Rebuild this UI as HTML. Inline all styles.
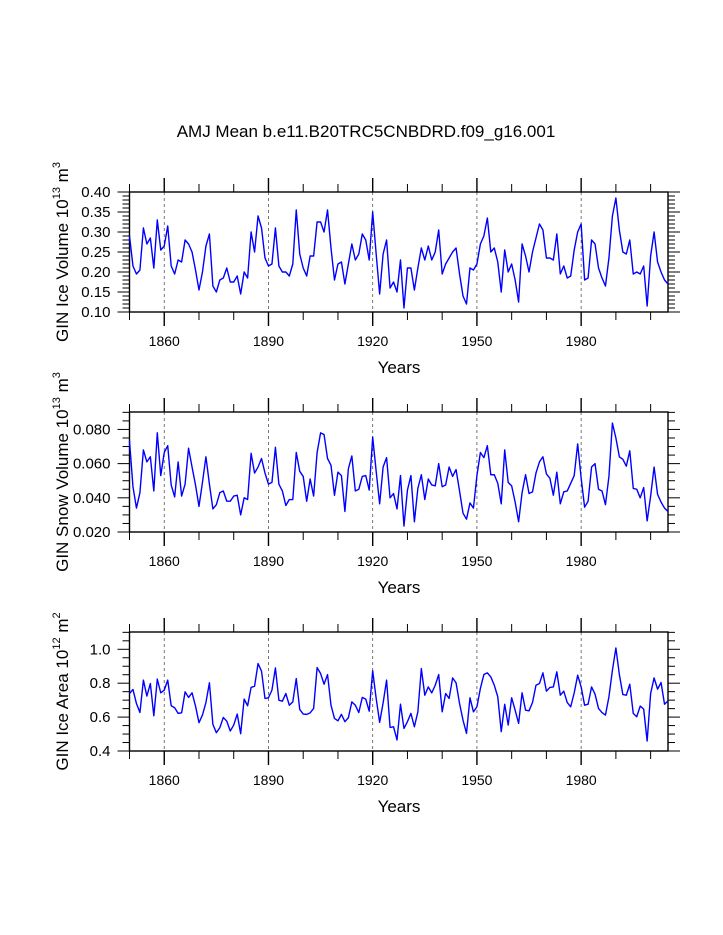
<!DOCTYPE html>
<html><head><meta charset="utf-8">
<style>
html,body{margin:0;padding:0;background:#fff;}
svg{display:block;font-family:"Liberation Sans",Arial,sans-serif;}
</style></head>
<body>
<svg id="chart" width="723" height="935" viewBox="0 0 723 935" xmlns="http://www.w3.org/2000/svg">
<rect width="723" height="935" fill="#fff"/>
<text x="366" y="137" font-size="17" text-anchor="middle" fill="#000">AMJ Mean b.e11.B20TRC5CNBDRD.f09_g16.001</text>
</svg>
<script>
const years = [];
for (let y = 1850; y <= 2005; y++) years.push(y);
const xTickYears = [1860, 1890, 1920, 1950, 1980];
const iceVolume = [0.29,0.215,0.195,0.205,0.31,0.27,0.285,0.21,0.33,0.255,0.265,0.315,0.215,0.195,0.23,0.225,0.28,0.27,0.25,0.205,0.155,0.20,0.265,0.295,0.165,0.15,0.18,0.185,0.21,0.175,0.175,0.19,0.145,0.20,0.185,0.30,0.25,0.34,0.31,0.235,0.215,0.22,0.31,0.215,0.20,0.20,0.19,0.22,0.355,0.245,0.21,0.19,0.24,0.24,0.325,0.325,0.30,0.355,0.26,0.18,0.22,0.225,0.17,0.22,0.27,0.23,0.245,0.295,0.28,0.23,0.35,0.245,0.145,0.245,0.28,0.16,0.175,0.15,0.23,0.11,0.21,0.21,0.155,0.21,0.26,0.23,0.265,0.23,0.25,0.305,0.195,0.22,0.235,0.25,0.26,0.195,0.14,0.12,0.21,0.205,0.22,0.27,0.29,0.335,0.25,0.26,0.225,0.15,0.255,0.20,0.22,0.18,0.125,0.27,0.24,0.20,0.25,0.285,0.32,0.305,0.235,0.235,0.23,0.295,0.195,0.215,0.185,0.19,0.255,0.30,0.32,0.18,0.185,0.28,0.27,0.21,0.185,0.165,0.235,0.34,0.385,0.305,0.25,0.245,0.28,0.195,0.20,0.195,0.215,0.115,0.24,0.30,0.225,0.20,0.18,0.17];
const snowVolume = [0.0733,0.0465,0.034,0.043,0.068,0.061,0.064,0.044,0.078,0.053,0.0665,0.0705,0.0475,0.0405,0.061,0.041,0.048,0.069,0.058,0.0475,0.035,0.049,0.064,0.048,0.0335,0.036,0.043,0.044,0.038,0.038,0.041,0.0415,0.030,0.040,0.039,0.066,0.0545,0.058,0.063,0.0545,0.048,0.049,0.0695,0.048,0.044,0.0355,0.039,0.039,0.0665,0.0555,0.0525,0.038,0.051,0.041,0.0665,0.078,0.077,0.063,0.059,0.0415,0.055,0.053,0.032,0.057,0.0645,0.044,0.045,0.0525,0.053,0.0445,0.0755,0.0555,0.0365,0.058,0.0635,0.040,0.0425,0.0335,0.053,0.0235,0.0445,0.053,0.026,0.0455,0.0535,0.039,0.051,0.0475,0.047,0.060,0.0465,0.0475,0.058,0.0525,0.0565,0.044,0.031,0.0275,0.037,0.034,0.053,0.0665,0.0635,0.0705,0.0535,0.0535,0.0485,0.0365,0.068,0.049,0.047,0.0375,0.026,0.043,0.0535,0.0425,0.0435,0.0545,0.061,0.064,0.054,0.0515,0.0415,0.055,0.0365,0.0435,0.044,0.0485,0.053,0.0715,0.0515,0.0345,0.038,0.058,0.060,0.045,0.044,0.036,0.0525,0.0837,0.075,0.064,0.0625,0.0585,0.0675,0.0455,0.045,0.040,0.046,0.0265,0.041,0.058,0.042,0.0375,0.034,0.032];
const iceArea = [0.739,0.763,0.68,0.627,0.818,0.724,0.798,0.608,0.824,0.743,0.759,0.818,0.667,0.655,0.622,0.625,0.749,0.716,0.743,0.665,0.567,0.612,0.686,0.802,0.557,0.508,0.537,0.598,0.576,0.518,0.553,0.618,0.502,0.706,0.667,0.775,0.782,0.916,0.871,0.71,0.714,0.759,0.89,0.70,0.694,0.739,0.67,0.69,0.827,0.645,0.618,0.616,0.625,0.651,0.892,0.857,0.794,0.851,0.67,0.592,0.578,0.616,0.573,0.596,0.69,0.67,0.627,0.716,0.706,0.635,0.873,0.71,0.569,0.684,0.818,0.539,0.543,0.465,0.676,0.533,0.573,0.622,0.543,0.631,0.886,0.729,0.778,0.743,0.788,0.851,0.631,0.739,0.71,0.831,0.802,0.68,0.582,0.504,0.714,0.631,0.661,0.769,0.851,0.861,0.837,0.788,0.72,0.514,0.675,0.553,0.714,0.641,0.563,0.743,0.641,0.637,0.686,0.788,0.798,0.861,0.753,0.775,0.778,0.867,0.729,0.753,0.686,0.661,0.743,0.847,0.778,0.67,0.676,0.778,0.735,0.651,0.627,0.612,0.72,0.876,1.008,0.851,0.733,0.729,0.794,0.622,0.602,0.665,0.647,0.459,0.739,0.831,0.765,0.804,0.676,0.696];
const iceVolTicks = ["0.10","0.15","0.20","0.25","0.30","0.35","0.40"];
const snowTicks = ["0.020","0.040","0.060","0.080"];
const areaTicks = ["0.4","0.6","0.8","1.0"];

const NS = "http://www.w3.org/2000/svg";
const svg = document.getElementById('chart');
function mk(tag, attrs, parent) {
  const e = document.createElementNS(NS, tag);
  for (const k in attrs) e.setAttribute(k, attrs[k]);
  (parent || svg).appendChild(e);
  return e;
}
const X0 = 129.5, X1 = 668, YR0 = 1850, YR1 = 2005;
const xScale = yr => X0 + (yr - YR0) / (YR1 - YR0) * (X1 - X0);

function panel(cfg) {
  const g = mk('g', {});
  
  
  const yS = v => cfg.bot - (v - cfg.vmin) / (cfg.vmax - cfg.vmin) * (cfg.bot - cfg.top);
  xTickYears.forEach(yr => {
    const l = mk('line', {x1: xScale(yr), x2: xScale(yr), y1: cfg.top, y2: cfg.bot, stroke: '#555', 'stroke-width': 0.8, 'stroke-dasharray': '3,3'}, g);
    
    
  });
  for (let yr = 1850; yr <= 2005; yr += 10) {
    const major = xTickYears.includes(yr);
    const len = major ? 14 : 8;
    const x = xScale(yr);
    mk('line', {x1: x, x2: x, y1: cfg.bot, y2: cfg.bot + len, stroke: '#000', 'stroke-width': major ? 1.4 : 1}, g);
    mk('line', {x1: x, x2: x, y1: cfg.top, y2: cfg.top - len, stroke: '#000', 'stroke-width': major ? 1.4 : 1}, g);
  }
  xTickYears.forEach(yr => {
    const t = mk('text', {x: xScale(yr), y: cfg.bot + 34, 'font-size': 14, 'text-anchor': 'middle'}, g);
    
    
    t.textContent = yr;
  });
  for (let v = cfg.vmin; v <= cfg.vmax + 1e-9; v += cfg.minor) {
    const rel = (v - cfg.majorStart) / cfg.major;
    const major = Math.abs(rel - Math.round(rel)) < 1e-6 && v >= cfg.majorStart - 1e-9;
    const len = major ? 12 : 7;
    const y = yS(v);
    mk('line', {x1: X0 - len, x2: X0, y1: y, y2: y, stroke: '#000', 'stroke-width': 1}, g);
    mk('line', {x1: X1, x2: X1 + len, y1: y, y2: y, stroke: '#000', 'stroke-width': 1}, g);
  }
  cfg.labels.forEach(lbl => {
    const t = mk('text', {x: X0 - 19, y: yS(parseFloat(lbl)) + 5, 'font-size': 15, 'text-anchor': 'end'}, g);
    
    
    t.textContent = lbl;
  });
  const f = mk('rect', {x: X0, y: cfg.top, width: X1 - X0, height: cfg.bot - cfg.top, fill: 'none', stroke: '#000', 'stroke-width': 1.4}, g);
  
  
  const pts = cfg.data.map((v, i) => xScale(years[i]).toFixed(2) + ',' + yS(v).toFixed(2)).join(' ');
  const p = mk('polyline', {points: pts, fill: 'none', stroke: '#0000ff', 'stroke-width': 1.4, 'stroke-linejoin': 'round'}, g);
  
  
  const xt = mk('text', {x: 399, y: cfg.bot + 61, 'font-size': 17, 'text-anchor': 'middle'}, g);
  
  
  xt.textContent = 'Years';
  const cy = (cfg.top + cfg.bot) / 2;
  const yt = mk('text', {x: 0, y: 0, 'font-size': 17, 'text-anchor': 'middle', transform: 'translate(68,' + cy + ') rotate(-90)'}, g);
  
  
  cfg.ytitle.forEach(pt => {
    const ts = mk('tspan', pt.sup ? {'font-size': 11, dy: -8} : (pt.after ? {dy: 8} : {}), yt);
    ts.textContent = pt.t;
  });
}

panel({name: 'ice-volume-panel', series: 'ice-volume-line', data: iceVolume, top: 192, bot: 312, vmin: 0.10, vmax: 0.40, minor: 0.01, major: 0.05, majorStart: 0.10, labels: iceVolTicks,
  ytitle: [{t: 'GIN Ice Volume 10'}, {t: '13', sup: true}, {t: ' m', after: true}, {t: '3', sup: true}]});
panel({name: 'snow-volume-panel', series: 'snow-volume-line', data: snowVolume, top: 412, bot: 532, vmin: 0.020, vmax: 0.0902, minor: 0.005, major: 0.020, majorStart: 0.020, labels: snowTicks,
  ytitle: [{t: 'GIN Snow Volume 10'}, {t: '13', sup: true}, {t: ' m', after: true}, {t: '3', sup: true}]});
panel({name: 'ice-area-panel', series: 'ice-area-line', data: iceArea, top: 632, bot: 751, vmin: 0.4, vmax: 1.102, minor: 0.05, major: 0.2, majorStart: 0.4, labels: areaTicks,
  ytitle: [{t: 'GIN Ice Area 10'}, {t: '12', sup: true}, {t: ' m', after: true}, {t: '2', sup: true}]});
</script>
</body></html>
